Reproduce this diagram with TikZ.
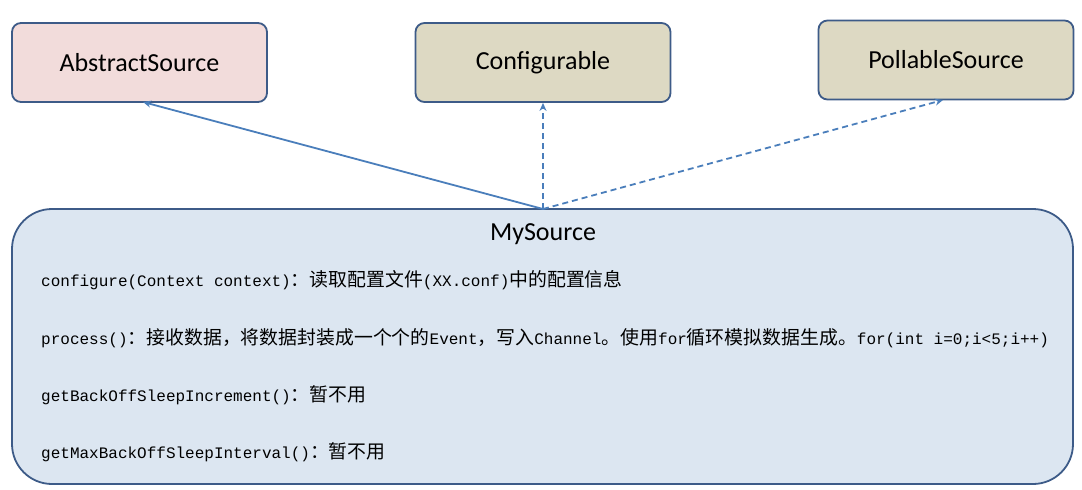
\documentclass[tikz,border=0pt]{standalone}
\usepackage{fontspec}
\setmainfont{Carlito}
\setmonofont{Liberation Mono}
\newfontfamily\cjkf[Scale=1.18]{Noto Sans CJK SC}
\newcommand{\zh}[1]{{\cjkf #1}}
\definecolor{bordc}{HTML}{3D5B88}
\definecolor{arrc}{HTML}{4A7EBB}
\definecolor{pinkc}{HTML}{F2DCDB}
\definecolor{olivec}{HTML}{DDD9C3}
\definecolor{bluec}{HTML}{DCE6F1}
\usetikzlibrary{arrows.meta}
\begin{document}
\begin{tikzpicture}[x=1pt,y=-1pt,
  cls/.style={draw=bordc,line width=1.8pt,rounded corners=9pt,minimum width=255pt,minimum height=79pt,font=\fontsize{26}{30}\selectfont,inner sep=0pt},
  conn/.style={draw=arrc,line width=1.8pt,-{Stealth[length=8pt,width=7pt]}},
  dsh/.style={dash pattern=on 6pt off 4pt},
  code/.style={anchor=west,font=\ttfamily\fontsize{16}{19}\selectfont,inner sep=0pt}]
\useasboundingbox (0,0) rectangle (1082,490);
\node[cls,fill=pinkc] (abs) at (139.5,62.5) {AbstractSource};
\node[cls,fill=olivec] (cfg) at (543,62.5) {Configurable};
\node[cls,fill=olivec] (pol) at (946,60) {PollableSource};
\node[draw=bordc,line width=1.8pt,rounded corners=40pt,fill=bluec,minimum width=1061pt,minimum height=275pt] (my) at (542.5,346.5) {};
\node[font=\fontsize{26}{30}\selectfont] (t) at (543,234) {MySource};
\coordinate (top) at (543,209);
\node[code] (l1) at (41,280) {configure(Context context)\zh{：读取配置文件}(XX.conf)\zh{中的配置信息}};
\node[code] (l2) at (41,338) {process()\zh{：接收数据，将数据封装成一个个的}Event\zh{，写入}Channel\zh{。使用}for\zh{循环模拟数据生成。}for(int i=0;i<5;i++)};
\node[code] (l3) at (41,395) {getBackOffSleepIncrement()\zh{：暂不用}};
\node[code] (l4) at (41,452) {getMaxBackOffSleepInterval()\zh{：暂不用}};
\draw[conn] (top) -- (143,102);
\draw[conn,dsh] (top) -- (cfg.south);
\draw[conn,dsh] (top) -- (943,100);
\end{tikzpicture}
\end{document}
